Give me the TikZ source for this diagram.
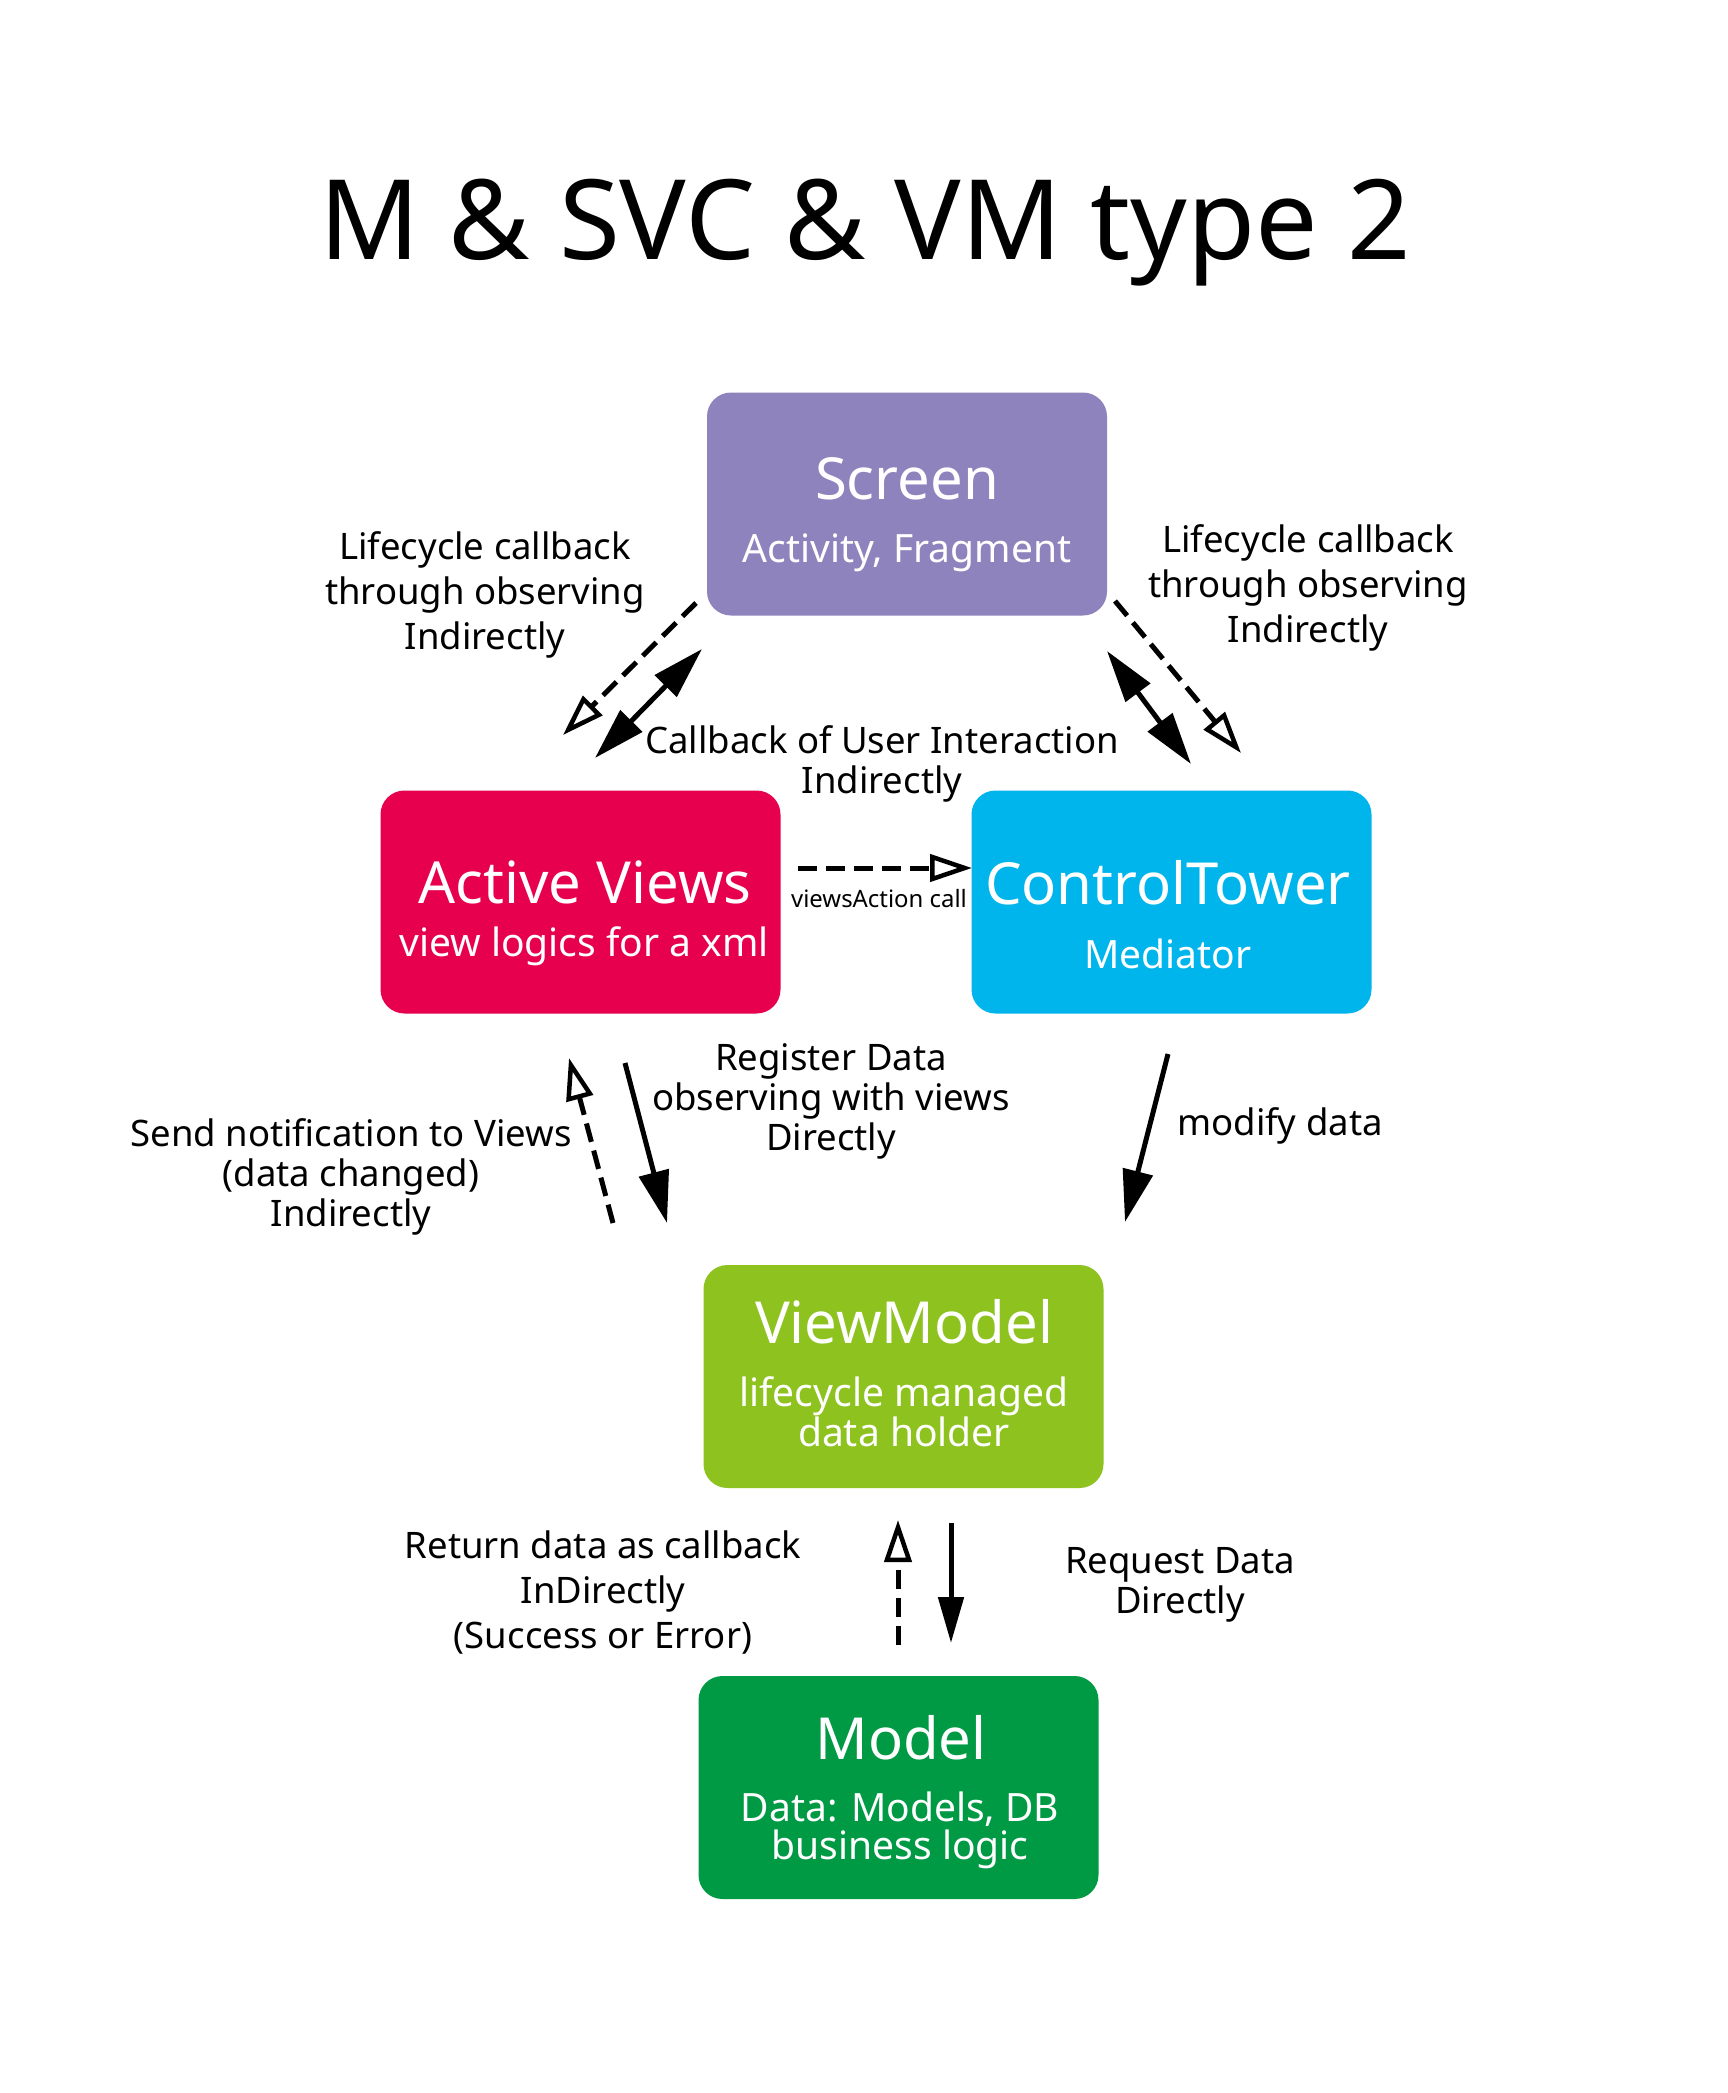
\documentclass[tikz,border=0pt]{standalone}
\usepackage{fontspec}
\setmainfont{Noto Sans}
\usetikzlibrary{arrows.meta}
\definecolor{cScreen}{HTML}{8E83BC}
\definecolor{cViews}{HTML}{E6004E}
\definecolor{cTower}{HTML}{00B5EC}
\definecolor{cVM}{HTML}{8DC21F}
\definecolor{cModel}{HTML}{009944}
\tikzset{
  box/.style={rounded corners=24pt, inner sep=0pt, minimum width=400pt, minimum height=223pt},
  btitle/.style={text=white, inner sep=0pt, anchor=base, font=\fontsize{58}{64}\selectfont},
  bsub/.style={text=white, inner sep=0pt, anchor=base, font=\fontsize{39}{40}\selectfont},
  lbl/.style={inner sep=0pt, align=center, font=\fontsize{36.5}{45}\selectfont},
  lbltight/.style={inner sep=0pt, align=center, font=\fontsize{36.5}{40}\selectfont},
  solidarr/.style={line width=5pt, -{Triangle[length=52pt,width=30pt]}},
  dbl/.style={line width=5pt, {Triangle[length=52pt,width=30pt]}-{Triangle[length=52pt,width=30pt]}},
  dasharr/.style={line width=5pt, dash pattern=on 19pt off 9pt, -{Triangle[open,length=42pt,width=27pt,line width=4.5pt]}},
}
\begin{document}
\begin{tikzpicture}[x=1pt,y=-1pt]
\path[use as bounding box, fill=white] (0,0) rectangle (1728,2093);

% title
\node[inner sep=0pt, anchor=base, font=\fontsize{111}{120}\selectfont] (title) at (865,259) {M \& SVC \& VM type 2};

% boxes
\node[box, fill=cScreen] (screen) at (907,504) {};
\node[box, fill=cViews] (views) at (580.5,902) {};
\node[box, fill=cTower] (tower) at (1171.5,902) {};
\node[box, fill=cVM] (vm) at (903.5,1376.5) {};
\node[box, fill=cModel] (model) at (898.5,1787.5) {};

\node[btitle] (screenT) at (907,499) {Screen};
\node[bsub] (screenS) at (907,562) {Activity, Fragment};
\node[btitle] (viewsT) at (585,903) {Active Views};
\node[bsub] (viewsS) at (584,956) {view logics for a xml};
\node[btitle] (towerT) at (1168,904) {ControlTower};
\node[bsub] (towerS) at (1168,968) {Mediator};
\node[btitle] (vmT) at (904,1343) {ViewModel};
\node[bsub] (vmS1) at (904,1406) {lifecycle managed};
\node[bsub] (vmS2) at (904,1446) {data holder};
\node[btitle] (modelT) at (901,1759) {Model};
\node[bsub] (modelS1) at (900,1821) {Data: Models, DB};
\node[bsub] (modelS2) at (900,1859) {business logic};

% labels
\node[lbl] (lblL) at (485,595) {Lifecycle callback\\through observing\\Indirectly};
\node[lbl] (lblR) at (1308,588) {Lifecycle callback\\through observing\\Indirectly};
\node[lbltight] (lblCB) at (882,764) {Callback of User Interaction\\Indirectly};
\node[inner sep=0pt, anchor=base, font=\fontsize{23.9}{26}\selectfont] (lblVA) at (879,907) {viewsAction call};
\node[lbltight] (lblReg) at (831,1101) {Register Data\\observing with views\\Directly};
\node[lbltight] (lblSend) at (351,1177) {Send notification to Views\\(data changed)\\Indirectly};
\node[inner sep=0pt, anchor=base, font=\fontsize{36.5}{40}\selectfont] (lblMod) at (1280,1135) {modify data};
\node[lbl] (lblRet) at (603,1592) {Return data as callback\\InDirectly\\(Success or Error)};
\node[lbltight] (lblReq) at (1180,1585) {Request Data\\Directly};

% connector end points
\coordinate (a1) at (696,603);  \coordinate (a2) at (563,735);
\coordinate (b1) at (702,649);  \coordinate (b2) at (595,758);
\coordinate (c1) at (1107,651); \coordinate (c2) at (1191,764);
\coordinate (d1) at (1115,601); \coordinate (d2) at (1241,753);
\coordinate (e1) at (798,868);  \coordinate (e2) at (972,868);
\coordinate (f1) at (613,1223); \coordinate (f2) at (569,1058);
\coordinate (g1) at (625,1063); \coordinate (g2) at (667,1223);
\coordinate (h1) at (1168,1054);\coordinate (h2) at (1125,1222);
\coordinate (i1) at (898,1645); \coordinate (i2) at (898,1520);
\coordinate (j1) at (951,1523); \coordinate (j2) at (951,1643);

\draw[dasharr] (a1) -- (a2);
\draw[dbl] (b1) -- (b2);
\draw[dbl] (c1) -- (c2);
\draw[dasharr] (d1) -- (d2);
\draw[dasharr] (e1) -- (e2);
\draw[dasharr] (f1) -- (f2);
\draw[solidarr] (g1) -- (g2);
\draw[solidarr] (h1) -- (h2);
\draw[dasharr] (i1) -- (i2);
\draw[line width=5pt, -{Triangle[length=46pt,width=25pt]}] (j1) -- (j2);
\end{tikzpicture}
\end{document}
